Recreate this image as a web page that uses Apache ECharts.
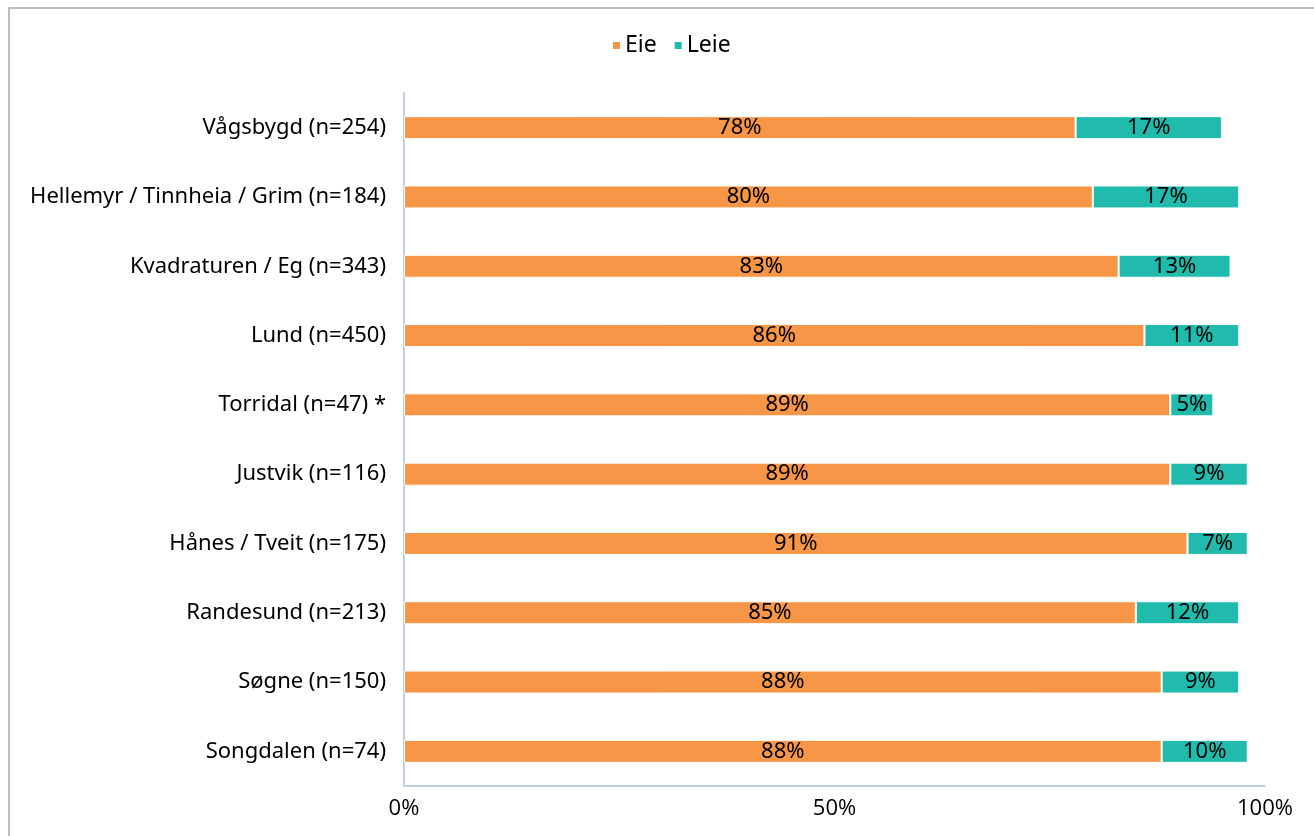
<!DOCTYPE html>
<html>
<head>
<meta charset="utf-8">
<script src="https://cdn.jsdelivr.net/npm/echarts@6/dist/echarts.min.js"></script>
<style>
  html, body { margin: 0; padding: 0; background: #fff; }
  #chart { width: 1314px; height: 836px; }
</style>
</head>
<body>
<div id="chart"></div>
<script>
// Areas, listed top to bottom
const areas = [
  'Vågsbygd (n=254)',
  'Hellemyr / Tinnheia / Grim (n=184)',
  'Kvadraturen / Eg (n=343)',
  'Lund (n=450)',
  'Torridal (n=47) *',
  'Justvik (n=116)',
  'Hånes / Tveit (n=175)',
  'Randesund (n=213)',
  'Søgne (n=150)',
  'Songdalen (n=74)'
];
// Share owning vs renting, percent
const eie = [78, 80, 83, 86, 89, 89, 91, 85, 88, 88];
const leie = [17, 17, 13, 11, 5, 9, 7, 12, 9, 10];
const xTicks = [0, 50, 100];

const font = '"Noto Sans", sans-serif';
const chart = echarts.init(document.getElementById('chart'), null, { renderer: 'canvas' });

const labelStyle = {
  show: true,
  position: 'inside',
  color: '#000',
  fontFamily: font,
  fontSize: 22,
  formatter: p => p.value + '%'
};

chart.setOption({
  animation: false,
  graphic: [{
    type: 'rect',
    shape: { x: 9, y: 8, width: 1320, height: 840 },
    style: { fill: 'none', stroke: '#a6a6a6', lineWidth: 1.5 },
    silent: true
  }],
  legend: {
    top: 29,
    left: 606,
    itemWidth: 9,
    itemHeight: 9,
    itemGap: 16,
    icon: 'rect',
    textStyle: { fontFamily: font, fontSize: 23, color: '#000', padding: [0, 0, 0, -1] },
    data: ['Eie', 'Leie']
  },
  grid: { left: 404, right: 49, top: 93, bottom: 50, containLabel: false },
  xAxis: {
    type: 'value',
    min: 0,
    max: 100,
    interval: 50,
    axisLine: { show: true, lineStyle: { color: '#c4d0e2', width: 2 } },
    axisTick: { show: false },
    splitLine: { show: false },
    axisLabel: {
      margin: 12,
      color: '#000',
      fontFamily: '"Open Sans", sans-serif',
      fontSize: 22,
      customValues: xTicks,
      formatter: v => v + '%'
    }
  },
  yAxis: {
    type: 'category',
    data: areas,
    inverse: true,
    axisLine: { show: true, lineStyle: { color: '#c4d0e2', width: 2 } },
    axisTick: { show: false },
    axisLabel: { margin: 18, color: '#000', fontFamily: font, fontSize: 22 }
  },
  series: [
    {
      name: 'Eie', type: 'bar', stack: 'total', data: eie, barWidth: 23,
      itemStyle: { color: '#f79646', borderColor: '#fff', borderWidth: 1 },
      label: labelStyle
    },
    {
      name: 'Leie', type: 'bar', stack: 'total', data: leie, barWidth: 23,
      itemStyle: { color: '#21bbad', borderColor: '#fff', borderWidth: 1 },
      label: labelStyle
    }
  ]
});
</script>
</body>
</html>
